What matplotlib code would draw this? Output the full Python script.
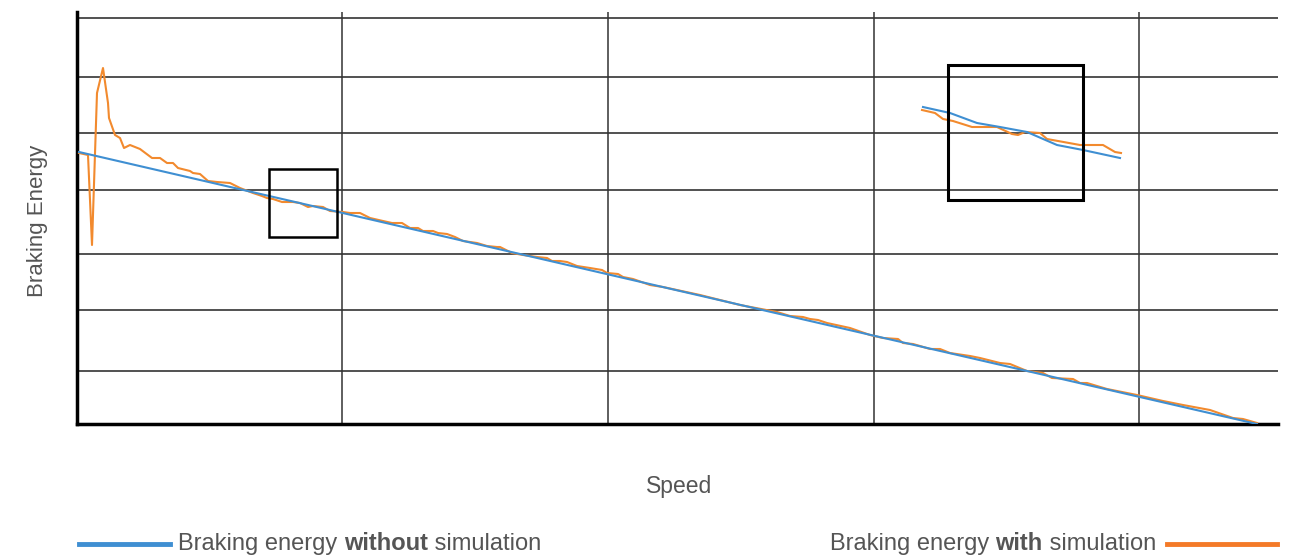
import matplotlib
matplotlib.use('Agg')
import matplotlib.pyplot as plt
from matplotlib.patches import Rectangle

# speed (arbitrary units) / braking energy (arbitrary units)
speed_without = [0.2, 59.0, 118.0]
energy_without = [68.0, 34.0, 0.0]

speed_with = [0.2, 1.1, 1.5, 2.0, 2.6, 3.1, 3.2, 3.8, 4.3, 4.7, 5.3, 6.3, 7.5, 8.3, 9.0, 9.6,
              10.1, 11.3, 11.6, 12.3, 13.1, 14.0, 15.3, 16.3, 17.6, 18.5, 19.0, 19.6, 20.5,
              21.6, 22.3, 23.1, 23.6, 24.6, 25.3, 26.6, 27.3, 28.3, 29.3, 30.6, 31.5, 32.5,
              33.3, 34.1, 34.6, 35.6, 36.1, 37.0, 37.8, 38.6, 40.0, 41.0, 42.0, 42.3, 43.5,
              44.6, 46.0, 47.0, 47.5, 48.3, 49.0, 50.0, 51.3, 52.5, 53.0, 54.1, 54.6, 55.6,
              57.3, 58.6, 62.3, 66.3, 70.0, 71.3, 72.6, 73.3, 74.1, 75.0, 77.3, 79.3, 80.6,
              82.1, 82.6, 83.6, 84.3, 85.3, 86.3, 87.3, 89.3, 90.3, 92.3, 93.3, 95.0, 96.6,
              97.5, 99.6, 100.3, 101.0, 103.0, 106.0, 108.6, 110.6, 113.3, 115.6, 116.6, 118.0]
energy_with = [67.75, 67.25, 44.75, 82.75, 89.0, 80.25, 76.5, 72.25, 71.5, 69.0, 69.75, 68.75,
               66.5, 66.5, 65.25, 65.25, 64.0, 63.25, 62.75, 62.5, 60.75, 60.5, 60.25, 59.0,
               57.75, 57.0, 56.5, 56.25, 55.5, 55.5, 55.25, 54.25, 54.5, 54.25, 53.25, 53.0,
               52.75, 52.75, 51.5, 50.75, 50.25, 50.25, 49.0, 49.0, 48.25, 48.25, 47.75, 47.5,
               46.75, 45.75, 45.25, 44.5, 44.25, 44.25, 42.75, 42.25, 41.75, 41.5, 40.75, 40.75,
               40.5, 39.5, 39.0, 38.5, 37.75, 37.5, 36.75, 36.25, 34.75, 34.25, 32.25, 29.75,
               28.0, 27.0, 26.75, 26.25, 26.0, 25.25, 24.0, 22.25, 21.5, 21.25, 20.25, 20.0,
               19.5, 18.75, 18.75, 17.75, 17.0, 16.5, 15.25, 15.0, 13.25, 12.75, 11.5, 11.25,
               10.25, 10.25, 8.75, 7.25, 5.75, 4.75, 3.5, 1.5, 1.25, 0.25]

# zoomed-in detail (shown top right)
zoom_speed_without = [84.6, 87.3, 90.0, 92.3, 95.0, 98.0, 100.6, 104.3]
zoom_energy_without = [79.25, 77.75, 75.25, 74.25, 73.0, 69.75, 68.5, 66.5]
zoom_speed_with = [84.5, 85.8, 86.6, 87.6, 89.5, 92.0, 93.5, 94.1, 94.8, 96.3, 97.0, 100.3,
                   102.6, 103.8, 104.4]
zoom_energy_with = [78.5, 77.75, 76.25, 75.75, 74.25, 74.25, 72.5, 72.25, 73.0, 72.75, 71.25,
                    69.75, 69.75, 68.0, 67.75]

x_grid = [26.5, 53.1, 79.7, 106.2]
y_grid = [13.25, 28.5, 42.5, 58.5, 72.75, 86.75, 101.5]

blue = '#3f8fd2'
orange = '#f28a2e'

fig = plt.figure(figsize=(12.97, 5.58), dpi=100)
ax = fig.add_axes([77 / 1297, 134 / 558, 1201 / 1297, 412 / 558])

for g in y_grid:
    ax.axhline(g, color='#222222', lw=1.1, zorder=1)
for g in x_grid:
    ax.axvline(g, color='#333333', lw=1.1, zorder=1)

ax.plot(speed_with, energy_with, color=orange, lw=1.5, zorder=3)
ax.plot(speed_without, energy_without, color=blue, lw=1.5, zorder=4)
ax.plot(zoom_speed_with, zoom_energy_with, color=orange, lw=1.5, zorder=3)
ax.plot(zoom_speed_without, zoom_energy_without, color=blue, lw=1.5, zorder=4)

# boxes marking the zoomed region
ax.add_patch(Rectangle((19.2, 46.75), 6.8, 17.0, fill=False, ec='black', lw=1.8, zorder=5))
ax.add_patch(Rectangle((87.1, 56.0), 13.5, 33.75, fill=False, ec='black', lw=2.2, zorder=5))

ax.set_xlim(0, 120.1)
ax.set_ylim(0, 103)
ax.set_xticks([])
ax.set_yticks([])
for s in ['top', 'right']:
    ax.spines[s].set_visible(False)
ax.spines['left'].set_linewidth(2.5)
ax.spines['bottom'].set_linewidth(2.5)

txt = '#555555'
fig.text(38 / 1297, 1 - 221 / 558, 'Braking Energy', rotation=90, ha='center', va='center',
         fontsize=16, color=txt, family='Liberation Sans')
fig.text(679 / 1297, 1 - 486 / 558, 'Speed', ha='center', va='center',
         fontsize=16.5, color=txt, family='Liberation Sans')

# legend built by hand
fs = 17
ly = 1 - 544 / 558
fig.add_artist(plt.Line2D([79 / 1297, 170 / 1297], [ly, ly], color=blue, lw=3.5))
fig.add_artist(plt.Line2D([1167 / 1297, 1277 / 1297], [ly, ly], color='#f47a28', lw=3.5))

fig.canvas.draw()
r = fig.canvas.get_renderer()


def rich(x, parts, align='left'):
    pieces = []
    for s, w in parts:
        pieces.append(fig.text(0, ly, s, fontsize=fs, color=txt, fontweight=w,
                               family='Liberation Sans', va='center'))
    widths = [p.get_window_extent(r).width / 1297 for p in pieces]
    total = sum(widths)
    start = x if align == 'left' else x - total
    for p, w in zip(pieces, widths):
        p.set_x(start)
        start += w


rich(178 / 1297, [('Braking energy ', 'normal'), ('without', 'bold'), (' simulation', 'normal')])
rich(1156 / 1297, [('Braking energy ', 'normal'), ('with', 'bold'), (' simulation', 'normal')],
     align='right')

fig.savefig('out.png', dpi=100)
